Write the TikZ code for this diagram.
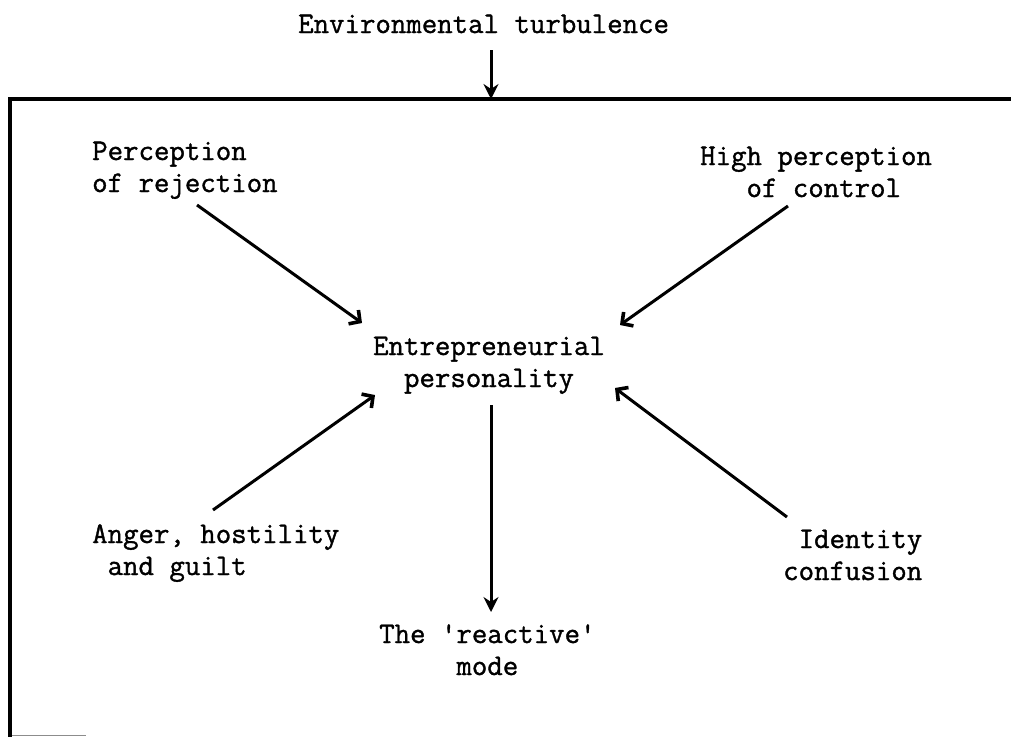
\documentclass[tikz,border=0pt]{standalone}
\usepackage{fontspec}
\newfontfamily\typew{Latin Modern Mono}[FakeBold=1.2]
\usetikzlibrary{arrows.meta}
\begin{document}
\begin{tikzpicture}[x=1pt,y=-1pt,
  lbl/.style={inner sep=0pt, anchor=base west, align=left,
    font=\fontsize{30}{32}\selectfont\typew},
  frame/.style={line width=3.2pt},
  varr/.style={line width=3pt, -{Stealth[length=15pt,width=15pt,inset=5pt]}},
  darr/.style={line width=3pt, -{Straight Barb[length=8pt,width=17pt,line width=3.6pt]}}]
\useasboundingbox (0,0) rectangle (1011,737);
% labels (base = baseline of last line)
\node[lbl] (env) at (298,33) {Environmental turbulence};
\node[lbl] (perc) at (92,192) {Perception\\of rejection};
\node[lbl] (high) at (700,197) {High perception\\~~~of control};
\node[lbl,align=center,anchor=base] (entr) at (489,387) {Entrepreneurial\\personality};
\node[lbl] (anger) at (92,575) {Anger, hostility\\~and guilt};
\node[lbl] (ident) at (783,580) {~Identity\\confusion};
\node[lbl] (react) at (379,675) {The \textquotesingle reactive'\\~~~~~mode};
% frame
\coordinate (tl) at (10,99);
\coordinate (tr) at (1011,99);
\coordinate (bl) at (10,737);
\coordinate (top) at (491,99);
\draw[frame] (tr) -- (tl) -- (bl);
\draw[line width=1.5pt, black!45] (12,735.5) -- (86,735.5);
% connector end points
\coordinate (envS) at (491,50);
\coordinate (percE) at (197,205);
\coordinate (percT) at (362,323);
\coordinate (highE) at (788,206);
\coordinate (highT) at (620,325);
\coordinate (angerE) at (213,510);
\coordinate (angerT) at (375,395);
\coordinate (identE) at (787,517);
\coordinate (identT) at (615,388);
\coordinate (entrS) at (491,405);
\coordinate (reactT) at (491,612);
% connectors
\draw[varr] (envS) -- (top);
\draw[darr] (percE) -- (percT);
\draw[darr] (highE) -- (highT);
\draw[darr] (angerE) -- (angerT);
\draw[darr] (identE) -- (identT);
\draw[varr] (entrS) -- (reactT);
\end{tikzpicture}
\end{document}
